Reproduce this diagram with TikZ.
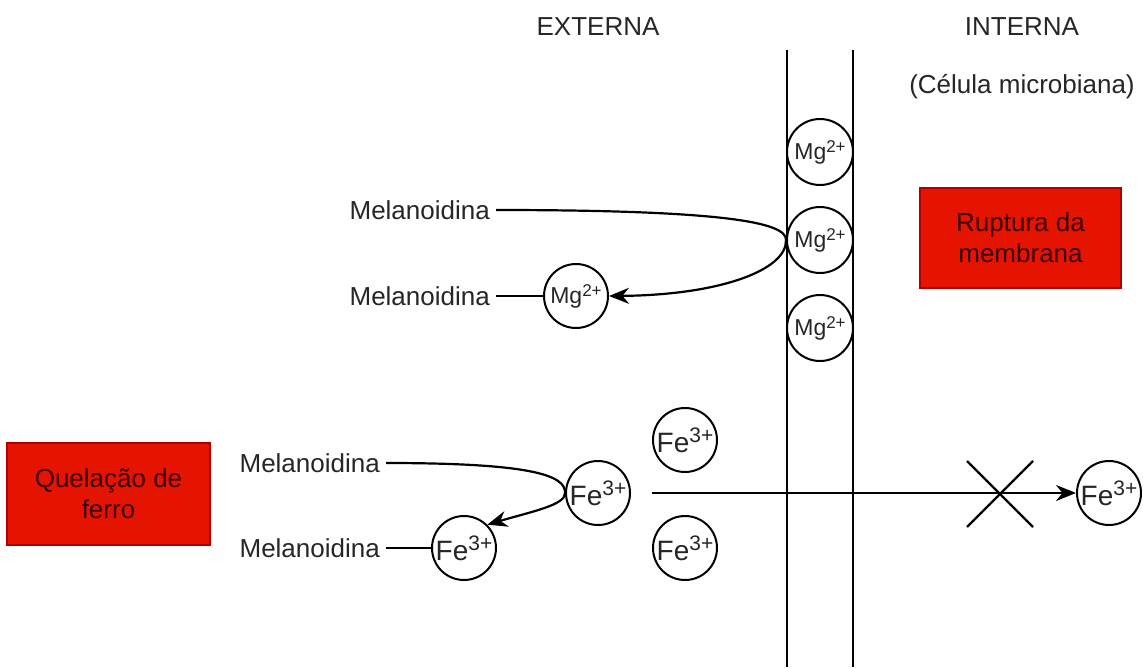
\documentclass[tikz,border=0pt]{standalone}
\usepackage{fontspec}
\setmainfont{Liberation Sans}
\usetikzlibrary{arrows.meta}
\definecolor{boxred}{HTML}{E51400}
\definecolor{boxline}{HTML}{B20000}
\definecolor{boxtext}{HTML}{3A0000}
\newcommand{\feion}{Fe\raisebox{10pt}{\fontsize{21}{22}\selectfont 3+}}
\newcommand{\mgion}{Mg\raisebox{7pt}{\fontsize{17}{18}\selectfont 2+}}
\begin{document}
\begin{tikzpicture}[x=1pt,y=-1pt,
  lbl/.style={font=\fontsize{26}{30}\selectfont, inner sep=0pt, text=black!85},
  ion/.style={circle, draw, line width=2pt, minimum size=64pt, inner sep=0pt, text=black!85},
  mgstyle/.style={ion, font=\fontsize{23}{26}\selectfont},
  festyle/.style={ion, font=\fontsize{28}{30}\selectfont},
  redbox/.style={draw=boxline, fill=boxred, text=boxtext, line width=1.2pt, align=center,
     font=\fontsize{26}{31}\selectfont},
  conn/.style={line width=2.2pt},
  arr/.style={conn, -{Stealth[length=20pt,width=16pt]}}]
\useasboundingbox (0,0) rectangle (1143,667);
% titles
\node[lbl] (ext) at (598,27) {EXTERNA};
\node[lbl] (int) at (1022,27) {INTERNA};
\node[lbl] (cel) at (1022,87) {(Célula microbiana)};
% membrane
\coordinate (m1t) at (787,50); \coordinate (m1b) at (787,667);
\coordinate (m2t) at (853,50); \coordinate (m2b) at (853,667);
\draw[conn] (m1t) -- (m1b);
\draw[conn] (m2t) -- (m2b);
% Mg ions in membrane
\node[mgstyle, minimum size=66pt] (mg1) at (820,152) {\mgion};
\node[mgstyle, minimum size=66pt] (mg2) at (820,240) {\mgion};
\node[mgstyle, minimum size=66pt] (mg3) at (820,328) {\mgion};
% red boxes
\node[redbox, minimum width=201pt, minimum height=100pt] (rup) at (1020.5,238) {Ruptura da\\membrana};
\node[redbox, minimum width=203pt, minimum height=102pt] (que) at (108.5,494) {Quelação de\\ferro};
% Mg chelation
\node[lbl, anchor=east] (mel1) at (490,210) {Melanoidina};
\node[lbl, anchor=east] (mel2) at (490,296) {Melanoidina};
\node[mgstyle] (mgf) at (576,296) {\mgion};
\draw[conn] ([xshift=6pt]mel2.east) -- (mgf.west);
\draw[arr] ([xshift=6pt]mel1.east) .. controls (720,210) and (787,222) .. (mg2.west)
   .. controls (787,270) and (720,295) .. (mgf.east);
% Fe chelation
\node[lbl, anchor=east] (mel3) at (380,463) {Melanoidina};
\node[lbl, anchor=east] (mel4) at (380,548) {Melanoidina};
\node[festyle] (fec) at (598,493) {\feion};
\node[festyle] (fel) at (464,548) {\feion};
\node[festyle] (fet) at (685,440) {\feion};
\node[festyle] (feb) at (685,548) {\feion};
\node[festyle] (fei) at (1109,493) {\feion};
\draw[conn] ([xshift=6pt]mel4.east) -- (fel.west);
\draw[arr] ([xshift=6pt]mel3.east) .. controls (530,463) and (566,475) .. (fec.west)
   .. controls (566,505) and (530,512) .. (fel.north east);
% blocked transport
\coordinate (astart) at (652,493);
\draw[arr] (astart) -- (fei.west);
\coordinate (xa) at (967,461); \coordinate (xb) at (1033,527);
\coordinate (xc) at (1033,461); \coordinate (xd) at (967,527);
\draw[conn] (xa) -- (xb);
\draw[conn] (xc) -- (xd);
\end{tikzpicture}
\end{document}
